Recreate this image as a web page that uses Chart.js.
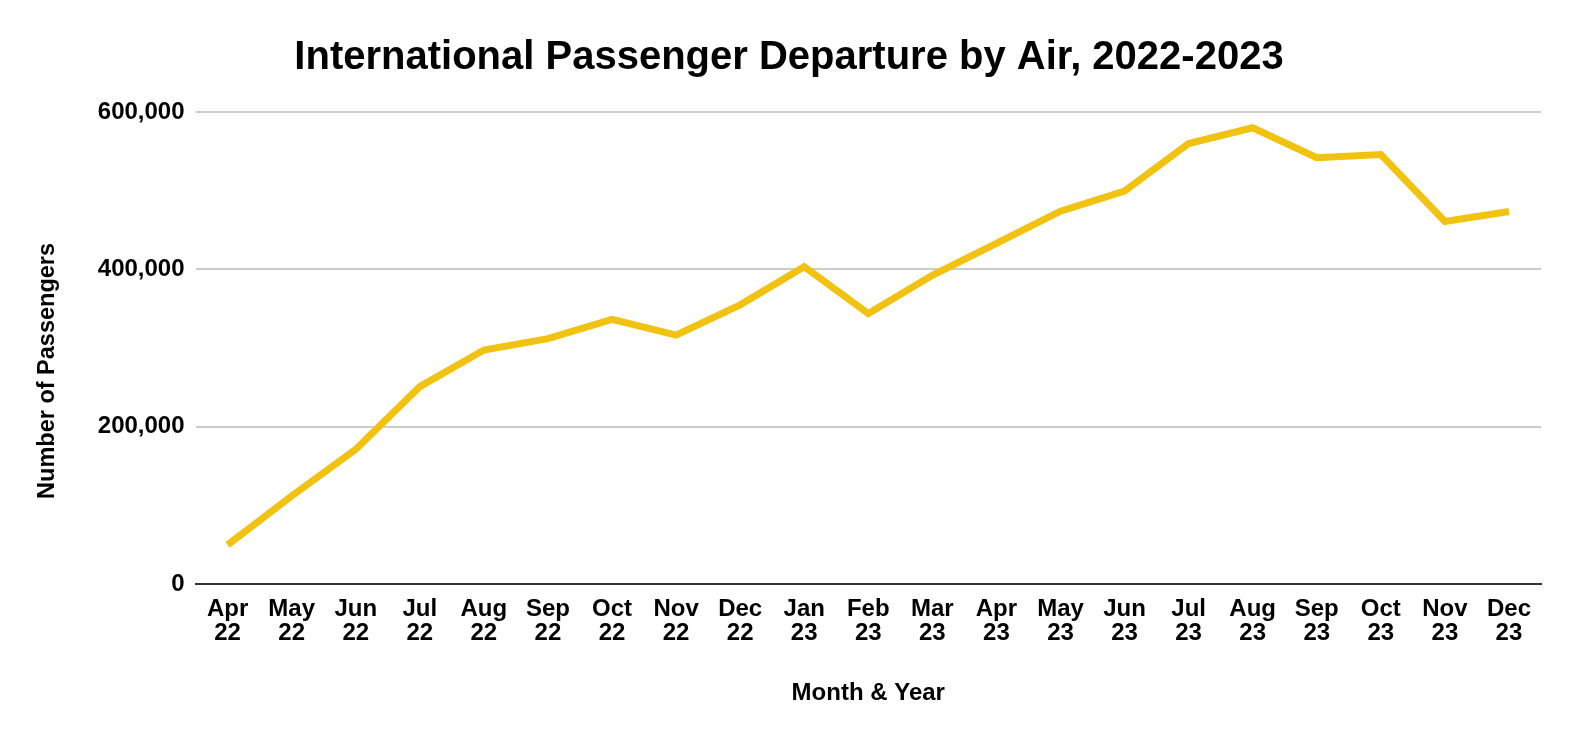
<!DOCTYPE html>
<html>
<head>
<meta charset="utf-8">
<script src="https://cdn.jsdelivr.net/npm/chart.js@4"></script>
<style>
  html, body { margin: 0; padding: 0; background: #ffffff; }
  #wrap { width: 1578px; height: 742px; }
</style>
</head>
<body>
<div id="wrap"><canvas id="c" width="1578" height="742"></canvas></div>
<script>
const months = ['Apr','May','Jun','Jul','Aug','Sep','Oct','Nov','Dec','Jan','Feb','Mar','Apr','May','Jun','Jul','Aug','Sep','Oct','Nov','Dec'];
const years = ['22','22','22','22','22','22','22','22','22','23','23','23','23','23','23','23','23','23','23','23','23'];
const passengers = [50000, 112000, 171500, 251000, 297500, 312000, 336500, 316500, 355000, 403500, 344000, 392500, 433000, 474000, 499500, 560000, 580000, 542000, 546000, 461000, 473500];
const yTicks = [0, 200000, 400000, 600000];
const titleText = 'International Passenger Departure by Air, 2022-2023';
const xTitle = 'Month & Year';
const yTitle = 'Number of Passengers';

const labels = months.map((m, i) => [m, years[i]]);
const FONT = '"Liberation Sans", Arial, Helvetica, sans-serif';

new Chart(document.getElementById('c'), {
  type: 'line',
  data: {
    labels: labels,
    datasets: [{
      data: passengers,
      borderColor: '#f1c20f',
      borderWidth: 7,
      pointRadius: 0,
      pointHoverRadius: 0,
      tension: 0,
      fill: false
    }]
  },
  options: {
    responsive: false,
    animation: false,
    layout: { padding: { left: 37, right: 37, top: 0, bottom: 0 } },
    plugins: {
      legend: { display: false },
      tooltip: { enabled: false },
      title: {
        display: true,
        text: titleText,
        color: '#000000',
        font: { family: FONT, size: 40, weight: 'bold', lineHeight: 1.2 },
        padding: { top: 34, bottom: 30 }
      }
    },
    scales: {
      x: {
        offset: true,
        grid: { display: false, drawTicks: false },
        border: { display: true, color: '#333333', width: 2 },
        ticks: {
          color: '#000000',
          padding: 13,
          maxRotation: 0,
          autoSkip: false,
          font: { family: FONT, size: 24, weight: 'bold', lineHeight: 1.0 }
        },
        title: {
          display: true,
          text: xTitle,
          color: '#000000',
          font: { family: FONT, size: 24, weight: 'bold', lineHeight: 1.2 },
          padding: { top: 21, bottom: 34 }
        }
      },
      y: {
        min: 0,
        max: 600000,
        afterBuildTicks: (axis) => { axis.ticks = yTicks.map(v => ({ value: v })); },
        grid: {
          drawTicks: false,
          color: (ctx) => ctx.tick && ctx.tick.value === 0 ? 'rgba(0,0,0,0)' : '#cccccc',
          lineWidth: 2
        },
        border: { display: false },
        ticks: {
          color: '#000000',
          padding: 11,
          font: { family: FONT, size: 24, weight: 'bold' },
          callback: (v) => Number(v).toLocaleString('en-US')
        },
        title: {
          display: true,
          text: yTitle + '       ',
          color: '#000000',
          font: { family: FONT, size: 23.5, weight: 'bold', lineHeight: 0.8 },
          padding: { top: 1, bottom: 30 }
        }
      }
    }
  }
});
</script>
</body>
</html>
